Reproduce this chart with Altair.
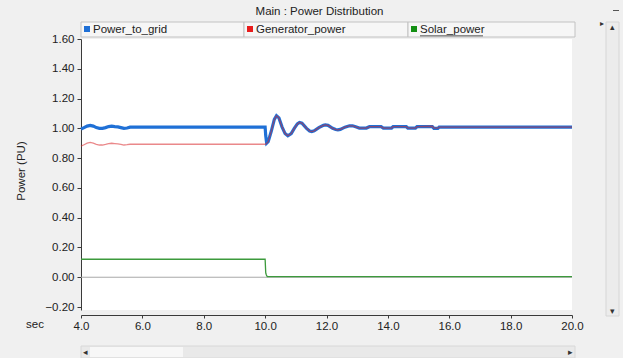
import altair as alt
import pandas as pd

# ---- series values (time in sec, power in PU) ----
grid_t = [4.0, 4.1, 4.2, 4.3, 4.4, 4.5, 4.6, 4.7, 4.8, 4.9, 5.0, 5.1, 5.2, 5.3, 5.4, 5.5, 5.6,
          10.0, 10.02, 10.05, 10.1, 10.2, 10.3, 10.37, 10.45, 10.55, 10.65, 10.74, 10.85, 10.95,
          11.05, 11.12, 11.2, 11.35, 11.45, 11.52, 11.6, 11.75, 11.9, 11.96, 12.05, 12.2, 12.3,
          12.37, 12.45, 12.6, 12.75, 12.85, 12.95, 13.07, 13.3, 13.4, 13.78, 13.85, 14.12, 14.17,
          14.6, 14.65, 14.9, 14.95, 15.45, 15.5, 15.63, 15.67, 20.0]
grid_v = [0.995, 1.005, 1.015, 1.02, 1.015, 1.005, 1.0, 1.0, 1.005, 1.012, 1.015, 1.012, 1.01,
          1.005, 1.0, 1.002, 1.008,
          1.008, 0.95, 0.90, 0.91, 0.98, 1.06, 1.085, 1.07, 1.01, 0.965, 0.95, 0.965, 1.0,
          1.03, 1.04, 1.035, 1.0, 0.982, 0.978, 0.983, 1.005, 1.02, 1.023, 1.02, 1.0, 0.992,
          0.99, 0.993, 1.008, 1.017, 1.017, 1.01, 1.002, 1.002, 1.011, 1.011, 1.002, 1.002, 1.011,
          1.011, 1.002, 1.002, 1.011, 1.011, 1.0, 1.0, 1.008, 1.008]

gen_t = [4.0, 4.1, 4.2, 4.3, 4.4, 4.5, 4.6, 4.7, 4.8, 4.9, 5.0, 5.1, 5.2, 5.3, 5.4, 5.5, 5.6,
         10.0, 10.02, 10.05, 10.1, 10.2, 10.3, 10.37, 10.45, 10.55, 10.65, 10.74, 10.85, 10.95,
         11.05, 11.12, 11.2, 11.35, 11.45, 11.52, 11.6, 11.75, 11.9, 11.96, 12.05, 12.2, 12.3,
         12.37, 12.45, 12.6, 12.75, 12.85, 12.95, 13.07, 13.3, 13.4, 13.78, 13.85, 14.12, 14.17,
         14.6, 14.65, 14.9, 14.95, 15.45, 15.5, 15.63, 15.67, 20.0]
gen_v = [0.88, 0.89, 0.90, 0.905, 0.90, 0.893, 0.888, 0.888, 0.892, 0.898, 0.90, 0.898, 0.895,
         0.892, 0.888, 0.89, 0.893,
         0.893, 0.895, 0.90, 0.91, 0.98, 1.06, 1.085, 1.07, 1.01, 0.965, 0.95, 0.965, 1.0,
         1.03, 1.04, 1.035, 1.0, 0.982, 0.978, 0.983, 1.005, 1.02, 1.023, 1.02, 1.0, 0.992,
         0.99, 0.993, 1.008, 1.017, 1.017, 1.01, 1.002, 1.002, 1.011, 1.011, 1.002, 1.002, 1.011,
         1.011, 1.002, 1.002, 1.011, 1.014, 1.002, 1.002, 1.008, 1.008]

solar_t = [4.0, 10.0, 10.02, 10.04, 10.07, 20.0]
solar_v = [0.121, 0.121, 0.03, 0.015, 0.004, 0.004]

series_names = ["Power_to_grid", "Generator_power", "Solar_power"]
series_colors = ["#1f70d6", "#e81c1c", "#138f13"]
x_ticks = [4, 6, 8, 10, 12, 14, 16, 18, 20]
y_ticks = [-0.2, 0.0, 0.2, 0.4, 0.6, 0.8, 1.0, 1.2, 1.4, 1.6]

FONT = "Liberation Sans"
W, H = 491, 271

grid_df = pd.DataFrame({"t": grid_t, "v": grid_v})
gen_df = pd.DataFrame({"t": gen_t, "v": gen_v})
solar_df = pd.DataFrame({"t": solar_t, "v": solar_v})

xs = alt.Scale(domain=[4, 20], nice=False, zero=False)
ys = alt.Scale(domain=[-0.22, 1.6], nice=False, zero=False)

x_axis = alt.Axis(
    values=x_ticks, format=".1f", title=None, grid=False, offset=5,
    domainColor="#3a3a3a", tickColor="#3a3a3a", tickSize=3, labelPadding=2,
    labelFont=FONT, labelFontSize=11.5, labelColor="#222222", labelFlush=False,
    labelOverlap=False)
y_axis = alt.Axis(
    values=y_ticks, format=".2f", title=None, grid=False,
    domainColor="#3a3a3a", tickColor="#3a3a3a", tickSize=4, labelPadding=3,
    labelFont=FONT, labelFontSize=11.5, labelColor="#222222",
    labelOverlap=False, labelBound=False, labelFlush=False)

x_enc = alt.X("t:Q", scale=xs, axis=x_axis)
y_enc = alt.Y("v:Q", scale=ys, axis=y_axis)

grid_line = alt.Chart(grid_df).mark_line(color=series_colors[0], strokeWidth=3.2).encode(x=x_enc, y=y_enc)

# grey zero reference line across the plot
zero_line = alt.Chart(solar_df).mark_rule(color="#a9a9a9", strokeWidth=1).encode(
    x=alt.value(0), x2=alt.value(W), y=alt.Y("z:Q", scale=ys, axis=y_axis)
).transform_calculate(z="0").transform_filter("datum.t == 4")

gen_line = alt.Chart(gen_df).mark_line(color="#d8262a", strokeWidth=1.3, opacity=0.55).encode(x=x_enc, y=y_enc)
solar_line = alt.Chart(solar_df).mark_line(color="#3c9a3c", strokeWidth=1.3).encode(x=x_enc, y=y_enc)

one = alt.Data(values=[{"k": 0}])

def box(x1, x2, y1, y2, fill, stroke=None, sw=1):
    kw = dict(fill=fill)
    if stroke:
        kw.update(stroke=stroke, strokeWidth=sw)
    return alt.Chart(one).mark_rect(**kw).encode(
        x=alt.value(x1), x2=alt.value(x2), y=alt.value(y1), y2=alt.value(y2))

def label(x, y, s, size=11.5, color="#222222", align="left", angle=0, baseline="middle"):
    kw = dict(font=FONT, fontSize=size, color=color, align=align, baseline=baseline)
    if angle:
        kw["angle"] = angle
    return alt.Chart(one).mark_text(**kw).encode(
        x=alt.value(x), y=alt.value(y), text=alt.value(s))

deco = []
# window title
deco.append(label(W / 2 - 7, -27, "Main : Power Distribution", size=11.5, align="center"))
deco.append(box(532, 538, -29, -28, "#555555"))
# legend header cells
cells = [(0, 163), (163, 327), (327, 494)]
for (a, b), name, col in zip(cells, series_names, series_colors):
    deco.append(box(a, b, -17, -2, "#f6f6f6", "#c2c2c2"))
    deco.append(box(a + 3, a + 9, -13, -7, col))
    deco.append(label(a + 12, -9.5, name))
# underline of the selected series label
deco.append(box(339, 402, -3.6, -2.8, "#222222"))
# small marker right of the header
deco.append(label(521, -15, "\u25b8", size=8, color="#333333", align="center"))
# vertical scrollbar
deco.append(box(525, 538, -17, 277, "#ececec", "#d6d6d6"))
deco.append(label(531.5, -12, "\u25b4", size=9, color="#333333", align="center"))
deco.append(label(531.5, 272, "\u25be", size=9, color="#333333", align="center"))
# horizontal scrollbar
deco.append(box(0, 494, 307, 319, "#e9e9e9", "#d8d8d8"))
deco.append(box(9, 102, 308, 318, "#f7f7f7"))
deco.append(label(4, 313, "\u25c2", size=9, color="#333333", align="center"))
deco.append(label(489, 313, "\u25b8", size=9, color="#333333", align="center"))
# axis captions
deco.append(label(-46, 286, "sec", size=11.5, align="center"))
deco.append(label(-59, 132, "Power (PU)", size=11.5, align="center", angle=270))

chart = alt.layer(grid_line, zero_line, gen_line, solar_line, *deco).properties(
    width=W, height=H,
    background="#f0f0f0",
    autosize=alt.AutoSizeParams(type="none"),
    padding={"left": 81, "top": 39, "right": 623 - 81 - W, "bottom": 358 - 39 - H},
).configure_view(fill="white", stroke=None)

chart.save("out.html", embed_options={"renderer": "svg", "actions": False})
